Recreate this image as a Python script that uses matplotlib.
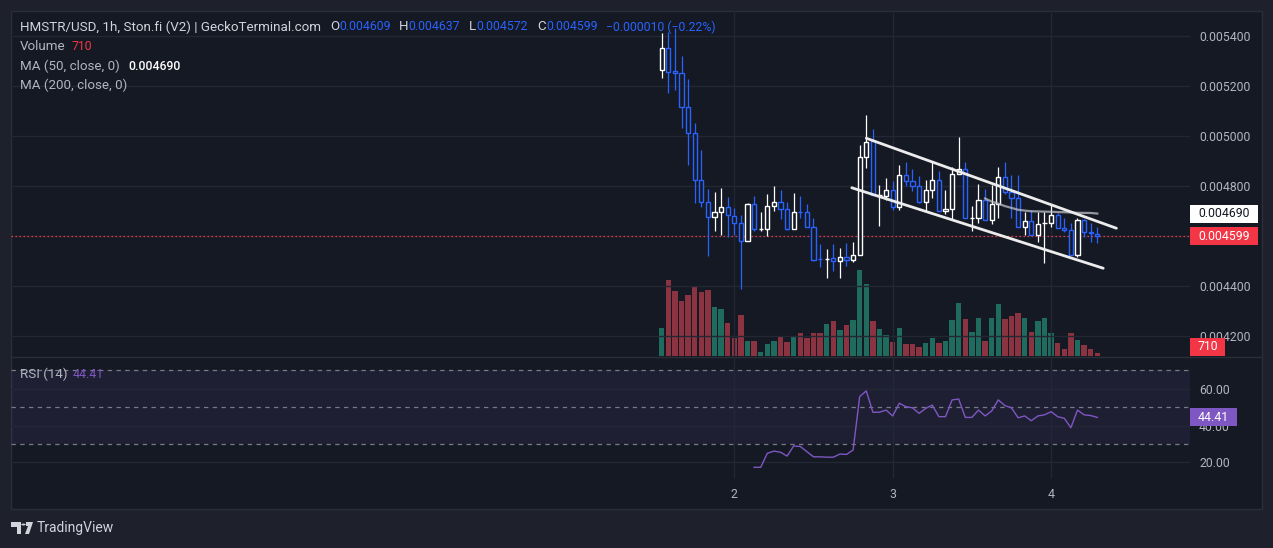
import numpy as np
import pandas as pd
import matplotlib
matplotlib.use("Agg")
import matplotlib.pyplot as plt
from matplotlib.patches import Rectangle, Polygon, Circle
from matplotlib.transforms import IdentityTransform

# ---------------- data ----------------
open_ = [0.005263, 0.005351, 0.005260, 0.005251, 0.005115, 0.005011, 0.004823, 0.004737, 0.004675, 0.004695,
         0.004717, 0.004681, 0.004651, 0.004579, 0.004727, 0.004629, 0.004629, 0.004719, 0.004737, 0.004709,
         0.004629, 0.004697, 0.004695, 0.004635, 0.004508, 0.004509, 0.004511, 0.004499, 0.004516, 0.004504,
         0.004523, 0.004915, 0.004981, 0.004763, 0.004761, 0.004784, 0.004715, 0.004843, 0.004820, 0.004799,
         0.004735, 0.004783, 0.004823, 0.004699, 0.004707, 0.004847, 0.004867, 0.004671, 0.004671, 0.004744,
         0.004663, 0.004727, 0.004835, 0.004775, 0.004751, 0.004635, 0.004659, 0.004603, 0.004651, 0.004651,
         0.004683, 0.004631, 0.004623, 0.004523, 0.004663, 0.004615, 0.004609]
high = [0.005413, 0.005417, 0.005431, 0.005320, 0.005227, 0.005053, 0.004944, 0.004787, 0.004775, 0.004791,
        0.004755, 0.004711, 0.004684, 0.004732, 0.004760, 0.004695, 0.004768, 0.004800, 0.004783, 0.004735,
        0.004771, 0.004760, 0.004728, 0.004672, 0.004568, 0.004547, 0.004568, 0.004551, 0.004573, 0.004577,
        0.004963, 0.005084, 0.005027, 0.004803, 0.004831, 0.004820, 0.004883, 0.004896, 0.004868, 0.004840,
        0.004823, 0.004895, 0.004860, 0.004784, 0.004876, 0.004997, 0.004896, 0.004720, 0.004808, 0.004788,
        0.004805, 0.004876, 0.004896, 0.004844, 0.004844, 0.004695, 0.004703, 0.004695, 0.004697, 0.004723,
        0.004691, 0.004671, 0.004651, 0.004671, 0.004667, 0.004651, 0.004637]
low = [0.005233, 0.005171, 0.005184, 0.005031, 0.004884, 0.004733, 0.004715, 0.004520, 0.004621, 0.004604,
       0.004597, 0.004604, 0.004387, 0.004579, 0.004621, 0.004621, 0.004600, 0.004701, 0.004669, 0.004624,
       0.004629, 0.004671, 0.004635, 0.004501, 0.004475, 0.004433, 0.004461, 0.004433, 0.004481, 0.004495,
       0.004523, 0.004874, 0.004763, 0.004641, 0.004744, 0.004704, 0.004704, 0.004800, 0.004781, 0.004731,
       0.004700, 0.004753, 0.004699, 0.004688, 0.004667, 0.004847, 0.004671, 0.004621, 0.004653, 0.004663,
       0.004648, 0.004673, 0.004768, 0.004671, 0.004635, 0.004604, 0.004603, 0.004577, 0.004491, 0.004637,
       0.004631, 0.004615, 0.004523, 0.004515, 0.004597, 0.004575, 0.004572]
close = [0.005351, 0.005257, 0.005251, 0.005115, 0.005011, 0.004823, 0.004737, 0.004675, 0.004695, 0.004717,
         0.004684, 0.004651, 0.004579, 0.004728, 0.004629, 0.004629, 0.004719, 0.004737, 0.004709, 0.004629,
         0.004697, 0.004696, 0.004635, 0.004505, 0.004507, 0.004509, 0.004499, 0.004515, 0.004504, 0.004524,
         0.004915, 0.004978, 0.004763, 0.004763, 0.004784, 0.004715, 0.004843, 0.004820, 0.004799, 0.004735,
         0.004783, 0.004823, 0.004699, 0.004707, 0.004847, 0.004867, 0.004671, 0.004671, 0.004744, 0.004663,
         0.004727, 0.004835, 0.004775, 0.004751, 0.004635, 0.004659, 0.004603, 0.004647, 0.004651, 0.004683,
         0.004631, 0.004623, 0.004523, 0.004663, 0.004615, 0.004613, 0.004599]
volume = [7840, 21000, 17920, 15120, 16800, 19320, 17640, 18200, 13440, 12880,
          9240, 5040, 11480, 4200, 4200, 1120, 3360, 4200, 5320, 3920,
          5600, 6440, 5040, 6440, 6440, 8960, 9800, 7280, 8680, 10080,
          23800, 19880, 9800, 7560, 5880, 3920, 7840, 3360, 3360, 2520,
          3640, 5040, 3640, 4200, 10080, 14560, 10360, 6720, 10640, 4200,
          10640, 14280, 10360, 11200, 12040, 10640, 6720, 9800, 10640, 6440,
          3640, 1960, 6440, 4480, 3080, 1960, 710]
rsi_start = 14
rsi = [17.3, 17.3, 24.9, 26.1, 25.5, 23.4, 28.9, 28.6, 25.8, 23.0,
       23.0, 22.8, 22.8, 24.5, 24.3, 26.7, 55.7, 58.8, 47.2, 47.2,
       48.4, 45.2, 52.1, 50.2, 49.6, 46.6, 49.3, 51.1, 44.8, 44.8,
       53.9, 54.4, 44.4, 44.4, 48.4, 45.2, 47.9, 53.9, 50.8, 49.6,
       44.2, 45.2, 42.6, 45.2, 45.8, 47.5, 44.8, 43.9, 38.8, 48.4,
       45.8, 45.4, 44.41]
day_index = [11, 35, 59]
day_labels = ["2", "3", "4"]
price_ticks = [0.0042, 0.0044, 0.0046, 0.0048, 0.0050, 0.0052, 0.0054]
rsi_ticks = [20, 40, 60]
chan_upper_x = [31.0, 68.9]
chan_upper_y = [0.004991, 0.004631]
chan_lower_x = [28.8, 66.9]
chan_lower_y = [0.004793, 0.004471]
ma50_value = 0.004690
last_volume = 710
last_rsi = 44.41

# ---------------- style ----------------
OUTER = "#1e212c"
INNER = "#151924"
BORDER = "#2a2e39"
GRID = "#232733"
UP = "#ffffff"
DOWN = "#2962ff"
VOL_UP = "#1f6b5e"
VOL_DOWN = "#8b3341"
RED = "#f23645"
PURPLE = "#7e57c2"
TXT = "#b2b5be"
HDR = "#d1d4dc"
FONT = ["Roboto", "DejaVu Sans"]
FS = 8.8      # numbers
FS_T = 9.6    # words in legends

plt.rcParams["font.family"] = FONT

W, H = 1273, 548
fig = plt.figure(figsize=(W / 100, H / 100), dpi=100, facecolor=OUTER)


def frect(x0, y0, x1, y1):
    return [x0 / W, 1 - y1 / H, (x1 - x0) / W, (y1 - y0) / H]


fig.patches.append(Rectangle((11 / W, 1 - 509 / H), (1262 - 11) / W, (509 - 11) / H,
                             transform=fig.transFigure, fc=INNER, ec=BORDER, lw=1.0, zorder=0))
fig.add_artist(plt.Line2D([11 / W, 1262 / W], [1 - 356.5 / H, 1 - 356.5 / H],
                          transform=fig.transFigure, color=BORDER, lw=1.0))

o = np.array(open_); h = np.array(high); l = np.array(low); c = np.array(close)
n = len(c)
x = np.arange(n)
up = c >= o
XLIM = (-98.6, 80.05)

ax_vol = fig.add_axes(frect(11, 11, 1190, 356))
ax = fig.add_axes(frect(11, 11, 1190, 356))
ax_rsi = fig.add_axes(frect(11, 357, 1190, 478))
ax_vol.set_zorder(1)
ax.set_zorder(2)
ax_rsi.set_zorder(2)
for a in (ax_vol, ax, ax_rsi):
    a.patch.set_visible(False)
    for s in a.spines.values():
        s.set_visible(False)
    a.set_xlim(*XLIM)

# volume
ax_vol.bar(x, volume, width=0.8, color=np.where(up, VOL_UP, VOL_DOWN), linewidth=0)
ax_vol.set_ylim(0, 95500)
ax_vol.set_xticks([]); ax_vol.set_yticks([])

# main price pane
ax.set_ylim(0.00412, 0.0055)
ax.set_yticks(price_ticks)
ax.set_yticklabels([f"{v:.6f}" for v in price_ticks])
ax.set_xticks(day_index)
ax.set_xticklabels([])
ax.tick_params(axis="y", left=False, labelleft=False, right=False, labelright=True,
               pad=6.5, labelsize=FS, labelcolor=TXT, length=0)
ax.tick_params(axis="x", length=0)
ax.grid(True, color=GRID, lw=1.0, zorder=0)
ax.set_axisbelow(True)

colors = np.where(up, UP, DOWN)
lo_b = np.minimum(o, c); hi_b = np.maximum(o, c)
ax.vlines(x, l, lo_b, colors=colors, lw=0.9, zorder=3)
ax.vlines(x, hi_b, h, colors=colors, lw=0.9, zorder=3)
ax.bar(x, hi_b - lo_b, bottom=lo_b, width=0.62, facecolor=INNER, edgecolor=colors,
       linewidth=1.0, zorder=4)

ma50 = pd.Series(c).rolling(50).mean()
ax.plot(x, ma50, color="#bfc1c6", lw=1.6, alpha=0.75, zorder=5)

ax.plot(chan_upper_x, chan_upper_y, color="#ececec", lw=2.0, solid_capstyle="round", zorder=6)
ax.plot(chan_lower_x, chan_lower_y, color="#ececec", lw=2.0, solid_capstyle="round", zorder=6)

ax.axhline(c[-1], color=RED, lw=0.9, ls=(0, (1.2, 2.0)), zorder=2.5)

# RSI pane
ax_rsi.set_ylim(11.5, 77.2)
ax_rsi.axhspan(30, 70, color=PURPLE, alpha=0.10, lw=0, zorder=0)
for lvl in (70, 50, 30):
    ax_rsi.axhline(lvl, color="#787b86", lw=0.9, ls=(0, (3.5, 3.5)), zorder=1)
ax_rsi.plot(np.arange(rsi_start, rsi_start + len(rsi)), rsi, color=PURPLE, lw=1.0, zorder=3)
ax_rsi.set_yticks(rsi_ticks)
ax_rsi.set_yticklabels([f"{v:.2f}" for v in rsi_ticks])
ax_rsi.set_xticks(day_index)
ax_rsi.set_xticklabels(day_labels)
ax_rsi.tick_params(axis="y", left=False, labelleft=False, right=False, labelright=True,
                   pad=6.5, labelsize=FS, labelcolor=TXT, length=0)
ax_rsi.tick_params(axis="x", length=0, pad=7, labelsize=FS, labelcolor=TXT)
ax_rsi.grid(True, color=GRID, lw=1.0, zorder=0)
ax_rsi.set_axisbelow(True)


# ---------------- right-axis value boxes ----------------
def box(axis, value, text, fc, tc, width, ymin_pix=None):
    yc = axis.transData.transform((0, value))[1]
    if ymin_pix is not None:
        yc = max(yc, ymin_pix + 9)
    fig.patches.append(Rectangle((1190, yc - 9), width, 18, transform=IdentityTransform(),
                                 fc=fc, ec="none", zorder=10))
    fig.text(1198, yc, text, transform=IdentityTransform(), color=tc, fontsize=FS,
             ha="left", va="center", zorder=11)


box(ax, ma50_value, f"{ma50_value:.6f}", "#ffffff", "#131722", 68)
box(ax, c[-1], f"{c[-1]:.6f}", RED, "#ffffff", 68)
box(ax_vol, last_volume, f"{last_volume}", RED, "#ffffff", 35, ymin_pix=H - 356)
box(ax_rsi, last_rsi, f"{last_rsi:.2f}", PURPLE, "#ffffff", 47)


# ---------------- legends / header ----------------
def t(xp, yp, s, color, size=FS, **kw):
    fig.text(xp / W, 1 - yp / H, s, color=color, fontsize=size, ha="left", va="center", **kw)


t(20, 27, "HMSTR/USD, 1h, Ston.fi (V2) | GeckoTerminal.com", HDR, FS_T)
t(330, 27, "O", HDR, FS_T); t(339, 27, f"{open_[-1]:.6f}", DOWN)
t(399, 27, "H", HDR, FS_T); t(408, 27, f"{high[-1]:.6f}", DOWN)
t(469, 27, "L", HDR, FS_T); t(476, 27, f"{low[-1]:.6f}", DOWN)
t(537, 27, "C", HDR, FS_T); t(546, 27, f"{close[-1]:.6f}", DOWN)
t(606, 27, "\u22120.000010 (\u22120.22%)", DOWN)
t(20, 47, "Volume", TXT, FS_T); t(72, 47, f"{last_volume}", RED)
t(20, 66, "MA (50, close, 0)", TXT, FS_T); t(128, 66, f"{ma50_value:.6f}", "#ffffff", FS, fontweight="medium")
t(20, 85, "MA (200, close, 0)", TXT, FS_T)
t(20, 374, "RSI (14)", TXT, FS_T); t(73, 374, f"{last_rsi:.2f}", PURPLE)

# TradingView logo
LOGO = "#d1d4dc"
def P(pts):
    return [(px / W, 1 - py / H) for px, py in pts]
fig.patches.append(Polygon(P([(11, 522), (21, 522), (21, 534), (17, 534), (17, 527), (11, 527)]),
                           closed=True, transform=fig.transFigure, fc=LOGO, ec="none"))
fig.patches.append(Circle((23.5 / W, 1 - 524.5 / H), 2.2 / W, transform=fig.transFigure,
                          fc=LOGO, ec="none"))
fig.patches.append(Polygon(P([(26, 522), (33, 522), (29, 534), (25, 534), (28, 526), (26, 526)]),
                           closed=True, transform=fig.transFigure, fc=LOGO, ec="none"))
fig.text(37 / W, 1 - 528 / H, "TradingView", color=LOGO, fontsize=10.0, ha="left", va="center")

fig.savefig("out.png", dpi=100, facecolor=OUTER)
